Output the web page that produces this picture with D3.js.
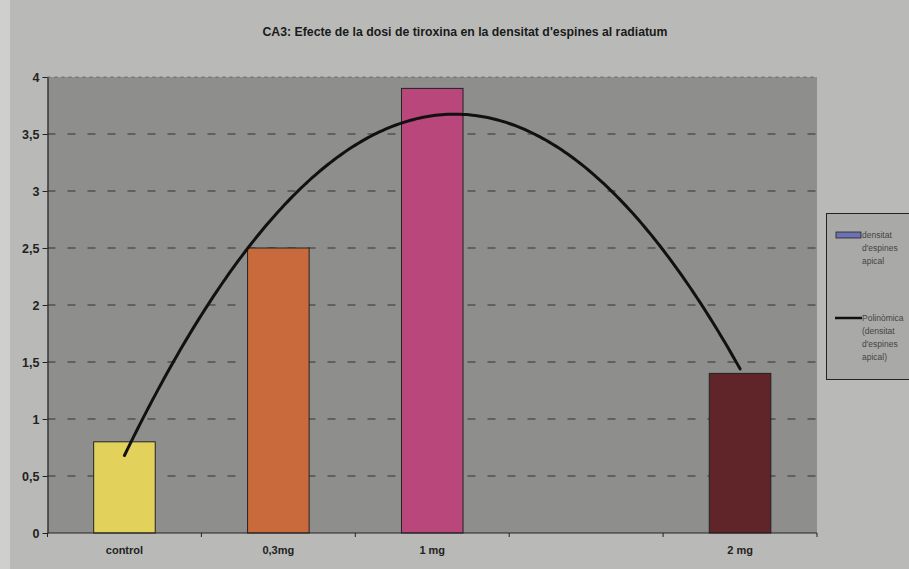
<!DOCTYPE html>
<html>
<head>
<meta charset="utf-8">
<script src="https://cdn.jsdelivr.net/npm/d3@7/dist/d3.min.js"></script>
<style>
  html, body { margin: 0; padding: 0; background: #b9bab8; }
  svg { display: block; }
</style>
</head>
<body>
<svg id="chart" width="909" height="569"></svg>
<script>
// Dose categories (one empty slot between 1 mg and 2 mg)
const categories = ["control", "0,3mg", "1 mg", "", "2 mg"];
const spineDensity = [0.8, 2.5, 3.9, null, 1.4];
const barColors = ["#e2d25c", "#c96a3c", "#b9477c", null, "#5f2529"];
const yTicks = [0, 0.5, 1, 1.5, 2, 2.5, 3, 3.5, 4];
const titleText = "CA3: Efecte de la dosi de tiroxina en la densitat d'espines al radiatum";
const legendBar = ["densitat", "d'espines", "apical"];
const legendTrend = ["Polinòmica", "(densitat", "d'espines", "apical)"];

const svg = d3.select("#chart");
const W = 909, H = 569;
const plot = { left: 47.5, right: 817, top: 77, bottom: 533 };

// page background, with a lighter strip on the left edge
svg.append("rect").attr("width", W).attr("height", H).attr("fill", "#b9bab8");
svg.append("rect").attr("x", 0).attr("y", 0).attr("width", 10).attr("height", H).attr("fill", "#cfd0ce");

const x = d3.scaleBand().domain(categories)
  .range([plot.left, plot.right]).paddingInner(0.6).paddingOuter(0.3);
const y = d3.scaleLinear().domain([0, 4]).range([plot.bottom, plot.top]);
const step = x.step();

// plot area
svg.append("rect")
  .attr("x", plot.left).attr("y", plot.top)
  .attr("width", plot.right - plot.left).attr("height", plot.bottom - plot.top)
  .attr("fill", "#8e8f8c");

// dashed gridlines
svg.append("g").selectAll("line")
  .data(yTicks.filter(v => v > 0))
  .join("line")
  .attr("x1", plot.left).attr("x2", plot.right)
  .attr("y1", d => y(d)).attr("y2", d => y(d))
  .attr("stroke", "#333").attr("stroke-width", 1)
  .attr("stroke-dasharray", d => d === 4 ? "3,4" : "8,12")
  .attr("stroke-opacity", d => d === 4 ? 0.5 : 1);

// bars
const barData = categories.map((c, i) => ({ c, v: spineDensity[i], col: barColors[i] }))
  .filter(d => d.v != null);
svg.append("g").selectAll("rect")
  .data(barData)
  .join("rect")
  .attr("x", d => x(d.c)).attr("width", x.bandwidth())
  .attr("y", d => y(d.v)).attr("height", d => y(0) - y(d.v))
  .attr("fill", d => d.col)
  .attr("stroke", "#222").attr("stroke-width", 1);

// second-order polynomial trendline (least squares over category position)
const pts = spineDensity.map((v, i) => ({ t: i + 1, v })).filter(d => d.v != null);
function quadFit(p) {
  let s = [0, 0, 0, 0, 0], r = [0, 0, 0];
  p.forEach(({ t, v }) => {
    for (let k = 0; k < 5; k++) s[k] += Math.pow(t, k);
    for (let k = 0; k < 3; k++) r[k] += v * Math.pow(t, k);
  });
  const M = [[s[0], s[1], s[2], r[0]], [s[1], s[2], s[3], r[1]], [s[2], s[3], s[4], r[2]]];
  for (let i = 0; i < 3; i++) {
    for (let j = i + 1; j < 3; j++) {
      const f = M[j][i] / M[i][i];
      for (let k = i; k < 4; k++) M[j][k] -= f * M[i][k];
    }
  }
  const c = [0, 0, 0];
  for (let i = 2; i >= 0; i--) {
    let acc = M[i][3];
    for (let k = i + 1; k < 3; k++) acc -= M[i][k] * c[k];
    c[i] = acc / M[i][i];
  }
  return t => c[0] + c[1] * t + c[2] * t * t;
}
const trend = quadFit(pts);
const tFirst = pts[0].t, tLast = pts[pts.length - 1].t;
const xt = d3.scaleLinear().domain([1, categories.length])
  .range([x(categories[0]) + x.bandwidth() / 2, x(categories[categories.length - 1]) + x.bandwidth() / 2]);
const curve = d3.range(tFirst, tLast + 0.0001, 0.02).map(t => [xt(t), y(trend(t))]);
svg.append("path")
  .attr("d", d3.line()(curve))
  .attr("fill", "none").attr("stroke", "#111").attr("stroke-width", 3)
  .attr("stroke-linecap", "round");

// y axis
const fmt = d => String(d).replace(".", ",");
const yAxis = svg.append("g")
  .attr("transform", `translate(${plot.left},0)`)
  .call(d3.axisLeft(y).tickValues(yTicks).tickFormat(fmt).tickSize(5).tickSizeOuter(0));
yAxis.select(".domain").attr("stroke", "#222").attr("stroke-width", 1.2);
yAxis.selectAll(".tick line").attr("stroke", "#222");
yAxis.selectAll(".tick text")
  .attr("x", -8)
  .attr("fill", "#222")
  .style("font-family", "Liberation Sans, Arial, sans-serif")
  .style("font-size", "12.5px").style("font-weight", "bold");

// x axis: tick marks between categories, labels centred on categories
const xAxis = svg.append("g");
xAxis.append("line")
  .attr("x1", plot.left).attr("x2", plot.right)
  .attr("y1", y(0)).attr("y2", y(0))
  .attr("stroke", "#222").attr("stroke-width", 1.2);
const edge0 = x(categories[0]) - (step - x.bandwidth()) / 2;
xAxis.selectAll("line.tk")
  .data(d3.range(categories.length + 1))
  .join("line").attr("class", "tk")
  .attr("x1", i => edge0 + i * step)
  .attr("x2", i => edge0 + i * step)
  .attr("y1", y(0)).attr("y2", y(0) + 4)
  .attr("stroke", "#222");
xAxis.selectAll("text")
  .data(categories)
  .join("text")
  .attr("x", d => x(d) + x.bandwidth() / 2)
  .attr("y", y(0) + 21)
  .attr("text-anchor", "middle")
  .attr("fill", "#222")
  .style("font-family", "Liberation Sans, Arial, sans-serif")
  .style("font-size", "11px").style("font-weight", "bold")
  .text(d => d);

// title
svg.append("text")
  .attr("x", 465).attr("y", 36)
  .attr("text-anchor", "middle")
  .attr("fill", "#1a1a1a")
  .attr("textLength", 405).attr("lengthAdjust", "spacingAndGlyphs")
  .style("font-family", "Liberation Sans Narrow, Arial Narrow, Liberation Sans, Arial, sans-serif")
  .style("font-size", "12px").style("font-weight", "bold")
  .text(titleText);

// legend
const lg = svg.append("g");
lg.append("rect")
  .attr("x", 826.5).attr("y", 213.5).attr("width", 90).attr("height", 166)
  .attr("fill", "#a9aaa8").attr("stroke", "#222").attr("stroke-width", 1);
lg.append("rect")
  .attr("x", 836).attr("y", 232).attr("width", 25).attr("height", 6)
  .attr("fill", "#6f70b4").attr("stroke", "#222").attr("stroke-width", 0.8);
lg.append("line")
  .attr("x1", 835).attr("x2", 862).attr("y1", 318).attr("y2", 318)
  .attr("stroke", "#111").attr("stroke-width", 2.5);
const legendFont = sel => sel
  .attr("fill", "#444")
  .style("font-family", "Liberation Sans, Arial, sans-serif")
  .style("font-size", "8.5px");
lg.selectAll("text.lb").data(legendBar).join("text").attr("class", "lb")
  .attr("x", 862).attr("y", (d, i) => 238 + i * 13).text(d => d).call(legendFont);
lg.selectAll("text.lt").data(legendTrend).join("text").attr("class", "lt")
  .attr("x", 862).attr("y", (d, i) => 321 + i * 13).text(d => d).call(legendFont);
</script>
</body>
</html>
